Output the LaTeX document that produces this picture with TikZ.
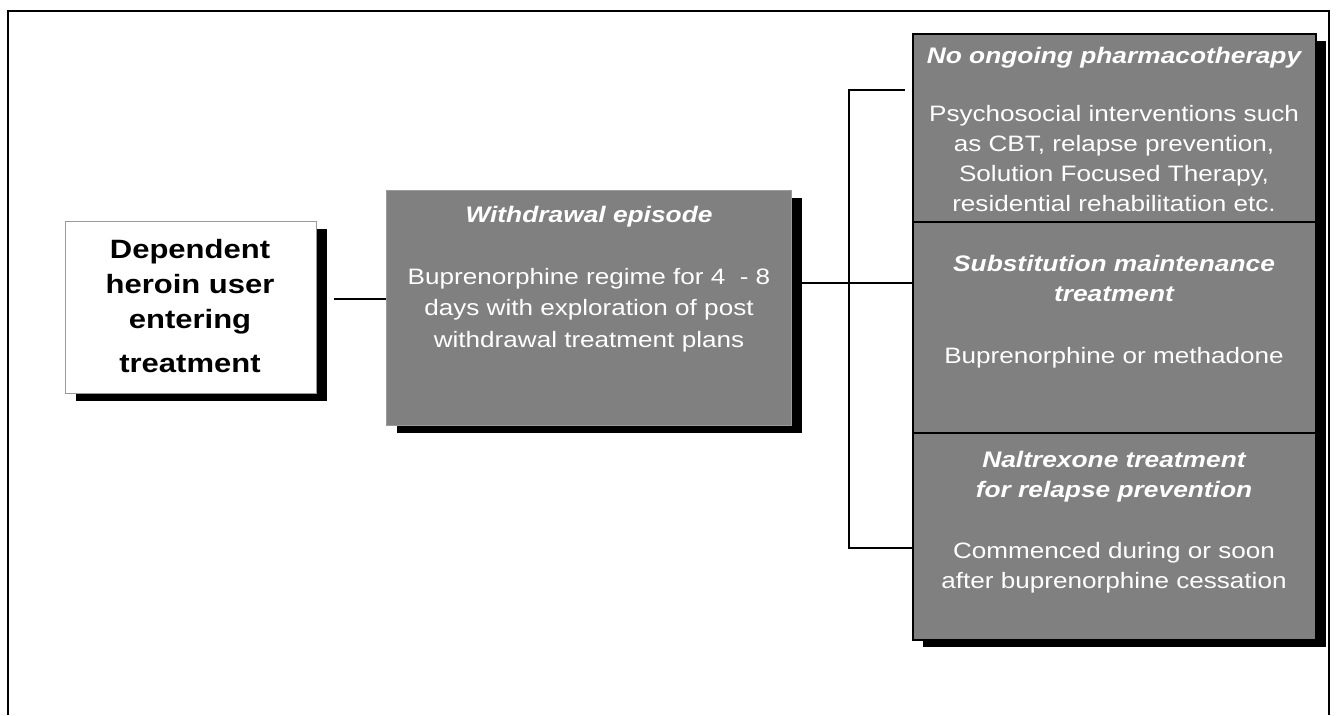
\documentclass[tikz,border=0pt]{standalone}
\usepackage{fontspec}
\setmainfont[FakeStretch=1.17]{Liberation Sans}
\usetikzlibrary{shadows}
\definecolor{panelgray}{HTML}{808080}
\definecolor{edgegray}{HTML}{9A9A9A}
\begin{document}
\begin{tikzpicture}[x=1pt,y=-1pt,
  shade/.style={drop shadow={shadow xshift=10pt,shadow yshift=-7pt,fill=black,opacity=1}},
  startbox/.style={shade,draw=edgegray,fill=white,line width=1.2pt,anchor=north west,inner sep=0pt},
  greybox/.style={shade,draw=edgegray,fill=panelgray,line width=1.2pt,anchor=north west,inner sep=0pt},
  optbox/.style={shade,draw=black,fill=panelgray,line width=1.6pt,anchor=north west,inner sep=0pt,minimum width=403pt},
  headtxt/.style={font=\fontsize{22.5}{29.5}\selectfont\bfseries\itshape,text=white,align=center,inner sep=0pt,anchor=north},
  bodytxt/.style={font=\fontsize{22.3}{30}\selectfont,text=white,align=center,inner sep=0pt,anchor=north},
  link/.style={draw=black,line width=1.5pt}]
\useasboundingbox (0,0) rectangle (1336,715);

% open frame (left, top and right sides)
\draw[line width=2pt] (8,715) -- (8,11) -- (1329,11) -- (1329,715);

% boxes
\node[startbox,minimum width=251pt,minimum height=172pt] (b1) at (65,221) {};
\node[greybox,minimum width=405pt,minimum height=235pt] (b2) at (386,190) {};
\node[optbox,minimum height=188pt] (r1) at (912,33) {};
\node[optbox,minimum height=211pt] (r2) at (912,221) {};
\node[optbox,minimum height=207pt] (r3) at (912,432) {};

% texts
\node[font=\fontsize{26.5}{35}\selectfont\bfseries,align=center,inner sep=0pt,anchor=north] (b1t) at (190,239)
  {Dependent\\heroin user\\entering\\[9pt]treatment};

\node[headtxt] (b2h) at (589,206) {Withdrawal episode};
\node[bodytxt,font=\fontsize{22.3}{31.5}\selectfont] (b2b) at (589,268)
  {Buprenorphine regime for 4 \ - 8\\days with exploration of post\\withdrawal treatment plans};

\node[headtxt] (r1h) at (1114,47) {No ongoing pharmacotherapy};
\node[bodytxt] (r1b) at (1114,105)
  {Psychosocial interventions such\\as CBT, relapse prevention,\\Solution Focused Therapy,\\residential rehabilitation etc.};

\node[headtxt] (r2h) at (1114,255) {Substitution maintenance\\treatment};
\node[bodytxt] (r2b) at (1114,347) {Buprenorphine or methadone};

\node[headtxt] (r3h) at (1114,451) {Naltrexone treatment\\for relapse prevention};
\node[bodytxt] (r3b) at (1114,542) {Commenced during or soon\\after buprenorphine cessation};

% connectors
\coordinate (j1) at (334,299);
\draw[link] (j1) -- (j1 -| b2.west);
\coordinate (j2) at (801,283);
\draw[link] (j2) -- (j2 -| r2.west);
\coordinate (bt) at (905,90);
\coordinate (bx) at (849,548);
\draw[link] (bt) -- (bt -| bx) -- (bx) -- (bx -| r3.west);
\end{tikzpicture}
\end{document}
